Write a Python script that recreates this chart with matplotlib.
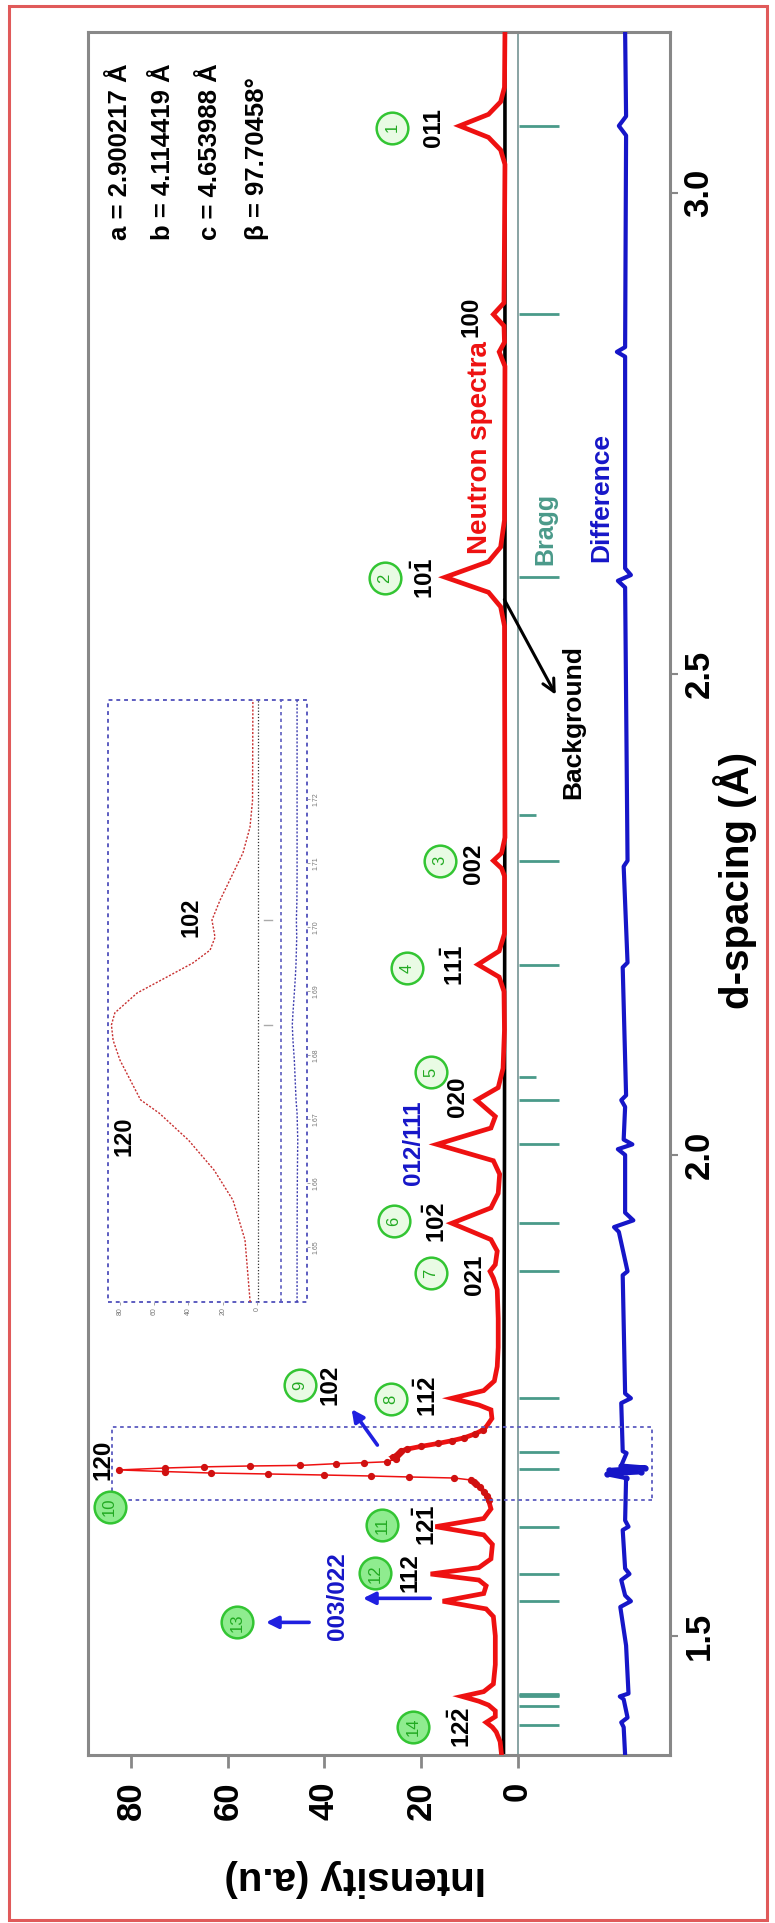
import matplotlib
matplotlib.use("Agg")
import numpy as np
import matplotlib.pyplot as plt
from matplotlib.patches import Rectangle

plt.rcParams['font.family'] = ['Liberation Sans', 'DejaVu Sans']
plt.rcParams['font.weight'] = 'bold'
plt.rcParams['mathtext.fontset'] = 'custom'
plt.rcParams['mathtext.bf'] = 'Liberation Sans:bold'
plt.rcParams['mathtext.rm'] = 'Liberation Sans:bold'

# ---------------- data ----------------
# observed neutron profile (d-spacing in Angstrom, intensity in a.u.)
obs_d = [1.376, 1.390, 1.400, 1.405, 1.410, 1.416, 1.422, 1.428, 1.432, 1.437, 1.442,
         1.450, 1.470, 1.500, 1.520, 1.528, 1.536, 1.544, 1.552, 1.558, 1.5643, 1.571,
         1.580, 1.595, 1.605, 1.6135, 1.622, 1.632, 1.641, 1.645, 1.650, 1.655, 1.658,
         1.660, 1.662, 1.6641, 1.6652, 1.6662, 1.6672, 1.6683, 1.6693, 1.6708, 1.6725,
         1.6745, 1.6757, 1.6766, 1.6772, 1.6790, 1.6800, 1.6810, 1.6840, 1.6860, 1.6880,
         1.6900, 1.6920, 1.6940, 1.6970, 1.7000, 1.7030, 1.7060, 1.7100, 1.7140, 1.7180,
         1.726, 1.735, 1.740, 1.747, 1.755, 1.765, 1.780, 1.800, 1.830, 1.860, 1.872,
         1.879, 1.886, 1.900, 1.912, 1.929, 1.945, 1.960, 1.980, 1.994, 2.011, 2.028,
         2.040, 2.057, 2.070, 2.090, 2.130, 2.170, 2.185, 2.198, 2.212, 2.230, 2.290,
         2.298, 2.306, 2.314, 2.330, 2.550, 2.570, 2.585, 2.6007, 2.617, 2.632, 2.660,
         2.820, 2.835, 2.845, 2.862, 2.874, 2.886, 3.030, 3.045, 3.058, 3.070, 3.082,
         3.095, 3.110, 3.168]
obs_int = [3.3, 3.6, 4.4, 5.2, 6.5, 4.6, 4.6, 6.0, 8.0, 11.5, 7.0,
           5.0, 4.6, 4.6, 5.0, 6.5, 15.5, 7.0, 6.5, 8.0, 18.0, 8.0,
           5.5, 5.2, 7.0, 17.0, 7.0, 5.5, 6.0, 6.3, 7.0, 7.8, 8.5,
           9.0, 9.6, 13.1, 22.5, 30.4, 40.0, 51.7, 63.6, 73.0, 82.5,
           73.0, 65.0, 55.5, 45.0, 37.6, 31.8, 27.0, 25.2, 25.8, 25.0,
           24.5, 24.2, 23.0, 20.0, 16.5, 13.5, 11.0, 8.8, 7.2, 6.4,
           5.3, 5.5, 8.0, 13.6, 7.0, 4.8, 4.2, 4.0, 4.0, 4.2, 5.0,
           5.7, 4.6, 4.2, 5.5, 13.6, 5.5, 4.0, 3.7, 5.0, 16.7, 5.5,
           4.6, 8.5, 4.0, 3.0, 2.7, 2.8, 3.8, 8.2, 3.8, 2.7, 2.7,
           3.3, 5.0, 3.3, 2.6, 2.7, 3.5, 6.0, 15.0, 6.0, 3.5, 2.7,
           2.6, 3.8, 2.7, 2.8, 5.0, 2.8, 2.6, 3.5, 6.0, 12.0, 6.0,
           3.5, 2.7, 2.6]

# refined background
bkg_d = [1.376, 1.60, 2.00, 2.50, 3.168]
bkg_int = [2.9, 2.9, 2.7, 2.6, 2.6]

# observed - calculated
diff_d = [1.376, 1.405, 1.410, 1.415, 1.434, 1.437, 1.440, 1.490, 1.530, 1.536, 1.542,
          1.558, 1.5643, 1.570, 1.610, 1.6135, 1.620, 1.664, 1.668, 1.670, 1.6725,
          1.675, 1.677, 1.690, 1.692, 1.742, 1.747, 1.752, 1.875, 1.879, 1.920, 1.925,
          1.932, 1.940, 2.000, 2.006, 2.011, 2.016, 2.050, 2.057, 2.062, 2.195, 2.200,
          2.300, 2.306, 2.590, 2.597, 2.603, 2.610, 2.830, 2.835, 2.840, 3.060, 3.070,
          3.080, 3.168]
diff_int = [-22.3, -22.0, -21.5, -22.8, -22.0, -21.2, -23.0, -22.5, -21.3, -23.5, -22.3,
            -21.5, -23.2, -22.3, -21.8, -23.0, -22.3, -22.5, -18.5, -25.5, -19.0,
            -26.5, -21.5, -22.6, -21.8, -21.5, -23.5, -22.3, -21.8, -22.8, -21.0, -20.0,
            -24.0, -22.3, -22.3, -20.8, -23.8, -22.0, -22.3, -21.5, -22.5, -21.8, -22.8,
            -22.0, -22.8, -22.3, -20.8, -23.5, -22.3, -22.3, -20.6, -22.3, -22.5, -21.0,
            -22.5, -22.3]

# Bragg reflection positions (d, Angstrom)
bragg_d = [3.070, 2.874, 2.6007, 2.306, 2.198, 2.057, 2.011, 1.929, 1.879, 1.747,
           1.691, 1.673, 1.6135, 1.564, 1.536, 1.4274, 1.4370, 1.4381, 1.4400, 1.4073]
bragg_weak_d = [2.353, 2.081]

# zoomed view of the 120 / 102 doublet
inset_d = [1.6414, 1.6511, 1.6573, 1.6620, 1.6667, 1.6709, 1.6730, 1.6792, 1.6823,
           1.6847, 1.6866, 1.6897, 1.6922, 1.6944, 1.6964, 1.6984, 1.7011, 1.7042,
           1.7084, 1.7116, 1.7156, 1.7198, 1.7355]
inset_int = [4.0, 7.0, 14.0, 25.0, 40.0, 57.0, 68.0, 80.0, 84.0,
             85.0, 83.0, 70.0, 52.6, 37.4, 27.4, 24.5, 26.3, 21.6,
             14.0, 8.2, 4.1, 2.6, 2.4]
inset_diff = [-23.4, -23.4, -23.5, -23.6, -23.8, -23.4, -22.8, -21.8, -21.0,
              -20.6, -21.0, -21.8, -22.4, -22.8, -23.0, -23.2, -23.0, -23.3,
              -23.4, -23.4, -23.4, -23.4, -23.4]
inset_bragg_d = [1.6847, 1.7011]

lattice = ["a = 2.900217 Å", "b = 4.114419 Å", "c = 4.653988 Å", "β = 97.70458°"]

RED = '#ee1111'
BLUE = '#1616c8'
TEAL = '#4a9a8a'
GREEN = '#33c533'

W, H = 775, 1923
fig = plt.figure(figsize=(W / 100, H / 100), dpi=100)
fig.patch.set_facecolor('white')

ax = fig.add_axes([88 / W, 1 - 1755 / H, (670 - 88) / W, (1755 - 32) / H])
ax.set_xlim(89.0, -31.6)
ax.set_ylim(1.3761, 3.1676)

for sp in ax.spines.values():
    sp.set_color('#888888')
    sp.set_linewidth(2.2)

# zero line
ax.axvline(0, color='#7f9c9c', lw=1.3, zorder=1)

# background, observed, difference
ax.plot(bkg_int, bkg_d, color='black', lw=2.6, zorder=2)

obs_d_arr = np.array(obs_d)
obs_i_arr = np.array(obs_int)
sharp = (obs_d_arr > 1.6625) & (obs_d_arr < 1.6835)
ax.plot(np.ma.masked_where(sharp, obs_i_arr), obs_d_arr, color=RED, lw=3.4,
        solid_joinstyle='miter', zorder=3)
seg = (obs_d_arr >= 1.662) & (obs_d_arr <= 1.684)
ax.plot(obs_i_arr[seg], obs_d_arr[seg], color=RED, lw=1.1, zorder=3)
box = (obs_d_arr >= 1.641) & (obs_d_arr <= 1.717)
ax.plot(obs_i_arr[box], obs_d_arr[box], 'o', color='#d01010', ms=4.2, zorder=4)

ax.plot(diff_int, diff_d, color=BLUE, lw=3.0, zorder=3)
ddi = np.array(diff_d)
dmask = (ddi >= 1.664) & (ddi <= 1.678)
ax.plot(np.array(diff_int)[dmask], ddi[dmask], 'o', color=BLUE, ms=3.5, zorder=4)

# Bragg markers
for d in bragg_d:
    ax.plot([-0.4, -8.5], [d, d], color=TEAL, lw=2.0, solid_capstyle='butt', zorder=2)
for d in bragg_weak_d:
    ax.plot([-0.4, -3.8], [d, d], color=TEAL, lw=2.0, solid_capstyle='butt', zorder=2)

# zoom frame round the 120 reflection
ax.add_patch(Rectangle((-27.9, 1.641), 84.1 + 27.9, 1.717 - 1.641, fill=False,
                       edgecolor='#5c5cc0', lw=1.3, ls=(0, (2, 2)), zorder=5))

# ticks
ax.set_xticks([0, 20, 40, 60, 80])
ax.set_xticklabels(['0', '20', '40', '60', '80'], rotation=90, fontsize=25,
                   fontweight='bold')
ax.set_yticks([1.5, 2.0, 2.5, 3.0])
ax.set_yticklabels(['1.5', '2.0', '2.5', '3.0'], rotation=90, fontsize=25,
                   fontweight='bold', va='center')
ax.yaxis.tick_right()
ax.tick_params(axis='x', direction='out', length=9, width=2, color='#888888', pad=10)
ax.tick_params(axis='y', direction='out', length=6, width=1.5, color='#888888', pad=3)

fig.text(355 / W, 1 - 1878 / H, 'Intensity (a.u)', rotation=180, ha='center',
         va='center', fontsize=29, fontweight='bold')
fig.text(735 / W, 1 - 880 / H, 'd-spacing (Å)', rotation=90, ha='center',
         va='center', fontsize=29, fontweight='bold')

# lattice parameters
for txt, xi in zip(lattice, [82.4, 73.5, 63.7, 54.0]):
    ax.text(xi, 2.951, txt, rotation=90, ha='center', va='bottom', fontsize=18.5,
            fontweight='bold', zorder=6)

# numbered reflection markers
circles = [(1, 26.0, 3.068), (2, 27.5, 2.600), (3, 16.1, 2.306), (4, 22.9, 2.194),
           (5, 17.9, 2.086), (6, 25.6, 1.931), (7, 17.9, 1.877), (8, 26.2, 1.746),
           (9, 45.1, 1.761), (10, 84.5, 1.634), (11, 28.1, 1.615), (12, 29.5, 1.565),
           (13, 58.1, 1.514), (14, 21.7, 1.405)]
for n, xi, d in circles:
    face = '#e9fbe4' if n < 10 else '#8fec8f'
    ax.scatter([xi], [d], s=520, facecolor=face, edgecolor=GREEN, linewidth=1.8,
               zorder=6)
    ax.text(xi, d, str(n), rotation=90, ha='center', va='center', fontsize=12,
            color='#22aa22', fontweight='normal', zorder=7)

# Miller indices
hkl = [('011', 17.5, 3.068, 'black'), ('100', 9.6, 2.871, 'black'),
       (r'$\mathbf{10\bar{1}}$', 19.2, 2.600, 'black'), ('002', 9.2, 2.303, 'black'),
       (r'$\mathbf{11\bar{1}}$', 13.0, 2.197, 'black'), ('020', 12.5, 2.060, 'black'),
       ('012/111', 21.5, 2.013, BLUE), (r'$\mathbf{10\bar{2}}$', 16.7, 1.930, 'black'),
       ('021', 9.0, 1.875, 'black'), (r'$\mathbf{11\bar{2}}$', 18.5, 1.749, 'black'),
       ('102', 38.9, 1.761, 'black'), ('120', 85.9, 1.683, 'black'),
       (r'$\mathbf{12\bar{1}}$', 18.8, 1.615, 'black'), ('112', 22.3, 1.566, 'black'),
       ('003/022', 37.2, 1.541, BLUE), (r'$\mathbf{12\bar{2}}$', 11.5, 1.405, 'black')]
for txt, xi, d, col in hkl:
    ax.text(xi, d, txt, rotation=90, ha='center', va='center', fontsize=17.5,
            fontweight='bold', color=col, zorder=7)

# curve labels
ax.text(7.8, 2.736, 'Neutron spectra', rotation=90, ha='center', va='center',
        fontsize=20, fontweight='bold', color=RED, zorder=7)
ax.text(-5.7, 2.651, 'Bragg', rotation=90, ha='center', va='center', fontsize=18,
        fontweight='bold', color=TEAL, zorder=7)
ax.text(-17.3, 2.684, 'Difference', rotation=90, ha='center', va='center',
        fontsize=19, fontweight='bold', color=BLUE, zorder=7)
ax.text(-11.5, 2.450, 'Background', rotation=90, ha='center', va='center',
        fontsize=19, fontweight='bold', color='black', zorder=7)
ax.annotate('', xy=(-8.2, 2.476), xytext=(3.0, 2.580),
            arrowprops=dict(arrowstyle='->', color='black', lw=2.2,
                            mutation_scale=22), zorder=7)

# blue pointers
for (x0, d0), (x1, d1) in [((28.7, 1.696), (34.7, 1.738)),
                           ((17.5, 1.539), (32.6, 1.539)),
                           ((42.6, 1.514), (52.7, 1.514))]:
    ax.annotate('', xy=(x1, d1), xytext=(x0, d0),
                arrowprops=dict(arrowstyle='-|>', color='#2020e0', lw=2.6,
                                mutation_scale=18), zorder=7)

# inset: close-up of the 120/102 doublet
iax = fig.add_axes([108 / W, 1 - 1302 / H, (307 - 108) / W, (1302 - 700) / H])
iax.set_xlim(87.0, -29.2)
iax.set_ylim(1.6414, 1.7355)
for sp in iax.spines.values():
    sp.set_visible(False)
iax.add_patch(Rectangle((0, 0), 1, 1, transform=iax.transAxes, fill=False,
                        edgecolor='#5c5cc0', lw=1.4, ls=(0, (2, 2)), clip_on=False))
iax.plot(inset_int, inset_d, ls=(0, (1.5, 1.2)), color='#c83030', lw=1.0)
iax.axvline(-0.6, color='#333333', lw=0.9, ls=(0, (1, 1.5)))
iax.axvline(-14.0, color='#5c5cc0', lw=1.2, ls=(0, (2, 2)))
iax.plot(inset_diff, inset_d, ls=(0, (1.5, 1.2)), color='#4040b0', lw=1.0)
for d in inset_bragg_d:
    iax.plot([-4, -9], [d, d], color='#aaaaaa', lw=1.0)
iax.text(77.7, 1.6673, '120', rotation=90, ha='center', va='center', fontsize=17,
         fontweight='bold')
iax.text(38.5, 1.7016, '102', rotation=90, ha='center', va='center', fontsize=17,
         fontweight='bold')
iax.set_xticks([0, 20, 40, 60, 80])
iax.set_xticklabels(['0', '20', '40', '60', '80'], rotation=90, fontsize=5,
                    color='#777777', fontweight='normal')
iax.set_yticks([1.65, 1.66, 1.67, 1.68, 1.69, 1.70, 1.71, 1.72])
iax.set_yticklabels(['1.65', '1.66', '1.67', '1.68', '1.69', '1.70', '1.71', '1.72'],
                    rotation=90, fontsize=5, color='#777777', fontweight='normal',
                    va='center')
iax.yaxis.tick_right()
iax.tick_params(axis='both', length=2, width=0.6, color='#999999', pad=2)
iax.patch.set_alpha(0)

# figure frame
fig.add_artist(Rectangle((9 / W, 3 / H), (767 - 9) / W, (1917 - 3) / H,
                         transform=fig.transFigure, fill=False,
                         edgecolor='#e05a5a', lw=2.2))

fig.savefig('out.png', dpi=100, facecolor='white')
